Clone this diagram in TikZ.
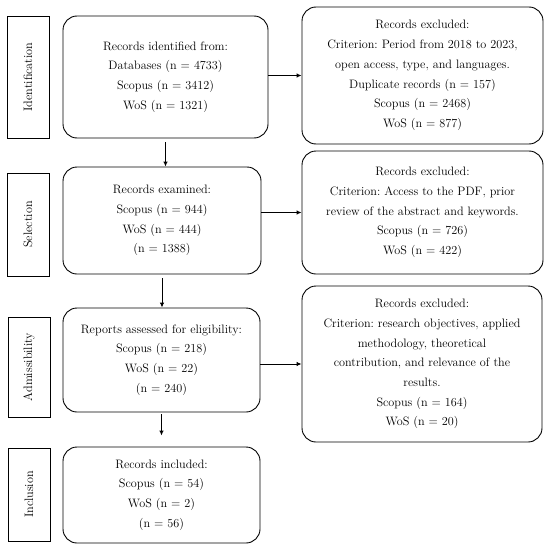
\documentclass[tikz,border=0pt]{standalone}
\usetikzlibrary{arrows.meta}
\frenchspacing

\begin{document}
\begin{tikzpicture}[line width = 0.9pt,
                    x = 1pt,
                    y = -1pt,
                    >= {Latex[length=5pt, width=4.5pt]},
                    phase/.style = {draw, rectangle, rotate = 90, inner sep = 0pt,
                                    minimum height = 42pt, font = \fontsize{12.2}{14}\selectfont},
                    stage/.style = {draw, rectangle, rounded corners = 14pt, align = center,
                                    inner sep = 0pt, font = \fontsize{12.2}{19.7}\selectfont}]

    \useasboundingbox (0,0) rectangle (550,551);

    % phases
    \node[phase, minimum width = 122pt] (ID)  at (28,77)    {Identification};
    \node[phase, minimum width = 103pt] (SEL) at (28,224.5) {Selection};
    \node[phase, minimum width = 100pt] (ADM) at (29,367)   {Admissibility};
    \node[phase, minimum width = 93pt]  (INC) at (29,494.5) {Inclusion};

    % main flow
    \node[stage, minimum width = 205pt, minimum height = 122pt] (IDB) at (165.5,77)
        {Records identified from:\\ Databases (n = 4733)\\ Scopus (n = 3412)\\ WoS (n = 1321)};
    \node[stage, minimum width = 198pt, minimum height = 107pt] (SEB) at (162,220.5)
        {Records examined:\\ Scopus (n = 944)\\ WoS (n = 444)\\ (n = 1388)};
    \node[stage, minimum width = 197pt, minimum height = 104pt] (ADB) at (161.5,360)
        {Reports assessed for eligibility:\\ Scopus (n = 218)\\ WoS (n = 22)\\ (n = 240)};
    \node[stage, minimum width = 197pt, minimum height = 96pt] (INB) at (161.5,495)
        {Records included:\\ Scopus (n = 54)\\ WoS (n = 2)\\ (n = 56)};

    % exclusions
    \node[stage, minimum width = 241pt, minimum height = 137pt] (EX1) at (422.5,75.5)
        {Records excluded:\\ Criterion: Period from 2018 to 2023,\\ open access, type, and languages.\\
         Duplicate records (n = 157)\\ Scopus (n = 2468)\\ WoS (n = 877)};
    \node[stage, minimum width = 241pt, minimum height = 123pt] (EX2) at (422.5,212.5)
        {Records excluded:\\ Criterion: Access to the PDF, prior\\ review of the abstract and keywords.\\
         Scopus (n = 726)\\ WoS (n = 422)};
    \node[stage, minimum width = 240pt, minimum height = 156pt] (EX3) at (422,364)
        {Records excluded:\\ Criterion: research objectives, applied\\ methodology, theoretical\\
         contribution, and relevance of the\\ results.\\ Scopus (n = 164)\\ WoS (n = 20)};

    \foreach \i/\j in {IDB/SEB,
                       SEB/ADB}
    {
        \draw[->, shorten < = 4pt] (\i.south) -- (\i.south |- \j.north);
    }
    \draw[->, shorten < = 2pt, shorten > = 11pt] (ADB.south) -- (ADB.south |- INB.north);

    \foreach \i/\j in {IDB/EX1,
                       SEB/EX2,
                       ADB/EX3}
    {
        \draw[->] (\j.west -| \i.east) -- (\j.west);
    }
\end{tikzpicture}
\end{document}
